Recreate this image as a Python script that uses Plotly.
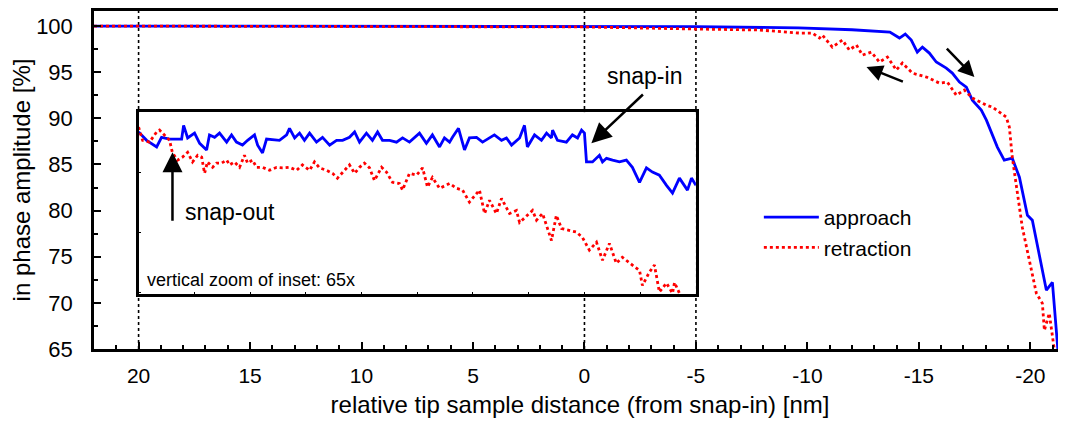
import plotly.graph_objects as go

# ---------------- data ----------------
# main curves (relative tip-sample distance [nm], in-phase amplitude [%])
approach_x = [22.0, 10.0, 0.0, -5.0, -9.6, -12.0, -13.7, -14.13, -14.39, -14.66, -14.93, -15.16,
              -15.47, -15.78, -16.23, -16.50, -16.82, -17.13, -17.40, -17.80, -18.03, -18.25,
              -18.52, -18.83, -19.19, -19.51, -19.87, -20.09, -20.72, -20.99, -21.25]
approach_y = [100.0, 100.0, 99.97, 99.93, 99.80, 99.60, 99.35, 98.70, 99.13, 98.48, 97.18, 97.72,
              97.07, 96.10, 95.44, 94.90, 93.93, 93.38, 91.97, 90.89, 89.80, 88.39,
              86.88, 85.47, 85.68, 83.62, 79.50, 78.96, 71.37, 72.23, 64.50]

retraction_x = [22.0, 10.0, 0.0, -5.16, -7.85, -9.64, -10.22, -10.54, -10.67, -11.12, -11.57, -11.88,
                -12.20, -12.47, -12.87, -13.23, -13.59, -13.99, -14.26, -14.71, -15.34, -15.92,
                -16.28, -16.68, -17.04, -17.40, -18.03, -18.30, -18.92, -19.06, -19.19, -19.64,
                -20.27, -20.54, -20.63, -20.85, -21.10]
retraction_y = [100.0, 99.95, 99.90, 99.67, 99.57, 99.24, 99.24, 98.70, 99.02, 97.72, 98.48, 97.40,
                97.94, 96.85, 97.18, 96.10, 96.64, 95.23, 95.99, 94.90, 94.47, 93.82,
                93.92, 92.51, 93.06, 92.19, 91.43, 91.21, 90.13, 89.04, 85.79, 78.20,
                71.04, 69.95, 67.03, 68.87, 64.50]

# inset curves (65x vertical zoom), amplitude [%]
inset_approach_x = [20.0, 19.64, 19.19, 18.97, 18.61, 18.07, 17.98, 17.80, 17.49, 17.26, 16.95, 16.82,
                    16.59, 16.37, 16.05, 15.83, 15.61, 15.34, 15.11, 14.80, 14.66, 14.44, 14.26, 13.68,
                    13.36, 13.23, 13.00, 12.78, 12.56, 12.33, 12.02, 11.75, 11.43, 11.12, 10.85, 10.54,
                    10.31, 10.09, 9.78, 9.51, 9.28, 9.06, 8.74, 8.43, 8.16, 7.85, 7.40, 7.09, 6.82,
                    6.50, 6.28, 6.05, 5.92, 5.65, 5.38, 5.16, 4.84, 4.57, 4.26, 4.04, 3.72, 3.50, 3.27,
                    2.91, 2.69, 2.56, 2.24, 1.93, 1.70, 1.48, 1.43, 1.21, 0.81, 0.54, 0.31, 0.13, 0.0,
                    -0.09, -0.36, -0.67, -0.81, -0.99, -1.26, -1.57, -1.88, -2.15, -2.47, -2.78, -3.05,
                    -3.36, -3.68, -3.95, -4.26, -4.62, -4.80, -5.0]
inset_approach_y = [99.967, 99.953, 99.942, 99.958, 99.955, 99.955, 99.978, 99.957, 99.965, 99.948, 99.937, 99.962,
                    99.958, 99.965, 99.950, 99.962, 99.950, 99.945, 99.953, 99.962, 99.945, 99.932, 99.955, 99.953,
                    99.962, 99.973, 99.957, 99.965, 99.953, 99.965, 99.950, 99.958, 99.945, 99.953, 99.953, 99.958,
                    99.967, 99.950, 99.965, 99.953, 99.967, 99.953, 99.953, 99.950, 99.957, 99.950, 99.965, 99.948, 99.962,
                    99.942, 99.957, 99.950, 99.958, 99.973, 99.937, 99.957, 99.958, 99.950, 99.957, 99.962, 99.953, 99.957, 99.945,
                    99.957, 99.978, 99.942, 99.962, 99.953, 99.965, 99.957, 99.970, 99.953, 99.950, 99.962, 99.957, 99.970, 99.965,
                    99.917, 99.917, 99.928, 99.917, 99.923, 99.920, 99.917, 99.920, 99.908, 99.883, 99.907, 99.900,
                    99.895, 99.878, 99.865, 99.890, 99.870, 99.890, 99.878]

inset_retraction_x = [20.0, 19.82, 19.51, 19.19, 19.06, 18.83, 18.61, 18.48, 18.25, 18.03, 17.80, 17.58,
                      17.35, 17.17, 17.04, 16.91, 16.68, 16.50, 16.28, 16.05, 15.92, 15.70, 15.47, 15.25,
                      15.11, 14.89, 14.71, 14.44, 14.13, 13.81, 13.54, 13.23, 12.91, 12.65, 12.33, 12.11,
                      11.88, 11.57, 11.30, 11.08, 10.76, 10.54, 10.31, 10.09, 9.87, 9.64, 9.42, 9.10, 8.88,
                      8.61, 8.30, 8.16, 7.85, 7.53, 7.26, 7.04, 6.82, 6.50, 6.05, 5.74, 5.47, 5.16, 4.71,
                      4.48, 4.26, 3.95, 3.72, 3.36, 3.05, 2.91, 2.33, 2.15, 1.88, 1.48, 1.26, 1.03, 0.36,
                      0.09, -0.22, -0.54, -0.81, -1.12, -1.43, -1.70, -2.15, -2.47, -2.60, -2.91, -3.14,
                      -3.36, -3.68, -3.95, -4.04, -4.26, -4.62, -5.0]
inset_retraction_y = [99.975, 99.953, 99.950, 99.967, 99.970, 99.962, 99.953, 99.932, 99.920, 99.925, 99.933, 99.917,
                      99.928, 99.925, 99.898, 99.917, 99.908, 99.915, 99.915, 99.920, 99.912, 99.917, 99.908, 99.928,
                      99.915, 99.920, 99.908, 99.908, 99.903, 99.908, 99.907, 99.908, 99.903, 99.912, 99.903, 99.917,
                      99.907, 99.903, 99.898, 99.890, 99.903, 99.912, 99.898, 99.908, 99.915, 99.907, 99.886, 99.908, 99.900,
                      99.883, 99.881, 99.870, 99.898, 99.895, 99.907, 99.875, 99.891, 99.873, 99.881, 99.873, 99.870, 99.850, 99.870,
                      99.831, 99.853, 99.831, 99.856, 99.831, 99.836, 99.816, 99.836, 99.820, 99.831, 99.786, 99.828, 99.806, 99.800,
                      99.791, 99.770, 99.783, 99.753, 99.781, 99.748, 99.758, 99.745, 99.736, 99.711, 99.733, 99.745,
                      99.700, 99.715, 99.698, 99.716, 99.698, 99.686, 99.689]

x_ticks = [20, 15, 10, 5, 0, -5, -10, -15, -20]
x_tick_labels = ["20", "15", "10", "5", "0", "-5", "-10", "-15", "-20"]
y_ticks = [65, 70, 75, 80, 85, 90, 95, 100]
y_tick_labels = ["65", "70", "75", "80", "85", "90", "95", "100"]
marker_lines_x = [20, 0, -5]

# ---------------- layout constants ----------------
X_RANGE = [22.0, -21.6]
Y_RANGE = [65.0, 101.63]
INSET_X = [20.0, -5.0]
INSET_BOX_Y = [70.92, 90.67]   # inset box in main-axis units
ZOOM = 65.0
inset_top = 100.0
inset_range = [inset_top - (INSET_BOX_Y[1] - INSET_BOX_Y[0]) / ZOOM, inset_top]

def xfrac(v):
    return (X_RANGE[0] - v) / (X_RANGE[0] - X_RANGE[1])

def yfrac(v):
    return (v - Y_RANGE[0]) / (Y_RANGE[1] - Y_RANGE[0])

BLUE = "#0000ff"
RED = "#ff0000"
FONT = "Liberation Sans, Arial, sans-serif"

fig = go.Figure()

fig.add_trace(go.Scatter(x=approach_x, y=approach_y, mode="lines", name="approach",
                         line=dict(color=BLUE, width=2.8)))
fig.add_trace(go.Scatter(x=retraction_x, y=retraction_y, mode="lines", name="retraction",
                         line=dict(color=RED, width=2.8, dash="dot")))
fig.add_trace(go.Scatter(x=inset_approach_x, y=inset_approach_y, mode="lines", showlegend=False,
                         line=dict(color=BLUE, width=2.8), xaxis="x2", yaxis="y2"))
fig.add_trace(go.Scatter(x=inset_retraction_x, y=inset_retraction_y, mode="lines", showlegend=False,
                         line=dict(color=RED, width=2.8, dash="dot"), xaxis="x2", yaxis="y2"))

shapes = []
for xv in marker_lines_x:
    shapes.append(dict(type="line", xref="x", yref="y", x0=xv, x1=xv, y0=Y_RANGE[0], y1=Y_RANGE[1],
                       line=dict(color="black", width=1.6, dash="dot"), layer="below"))

annotations = [
    dict(x=-0.31, y=87.31, ax=-2.69, ay=92.73, xref="x", yref="y", axref="x", ayref="y",
         showarrow=True, arrowhead=2, arrowsize=1.6, arrowwidth=2.5, arrowcolor="black", text=""),
    dict(x=-2.69, y=93.0, xref="x", yref="y", text="snap-in", showarrow=False,
         font=dict(size=23, color="black", family=FONT), yanchor="bottom"),
    dict(x=18.48, y=86.33, ax=18.48, ay=78.73, xref="x", yref="y", axref="x", ayref="y",
         showarrow=True, arrowhead=2, arrowsize=1.6, arrowwidth=2.5, arrowcolor="black", text=""),
    dict(x=18.03, y=79.8, xref="x", yref="y", text="snap-out", showarrow=False, xanchor="left",
         font=dict(size=23, color="black", family=FONT)),
    dict(x=-17.49, y=94.47, ax=-16.19, ay=97.72, xref="x", yref="y", axref="x", ayref="y",
         showarrow=True, arrowhead=2, arrowsize=1.3, arrowwidth=2.5, arrowcolor="black", text=""),
    dict(x=-12.65, y=95.55, ax=-14.35, ay=93.92, xref="x", yref="y", axref="x", ayref="y",
         showarrow=True, arrowhead=2, arrowsize=1.3, arrowwidth=2.5, arrowcolor="black", text=""),
    dict(x=19.73, y=72.44, xref="x", yref="y", text="vertical zoom of inset: 65x", showarrow=False,
         xanchor="left", font=dict(size=18, color="black", family=FONT)),
]

axis_common = dict(showgrid=False, zeroline=False, showline=True, linecolor="black", linewidth=2.5,
                   ticks="inside", tickcolor="black", tickwidth=2, automargin=False)

# the page body adds an 8px offset, so the figure is 8px smaller than the window
fig.update_layout(
    width=1058, height=415,
    margin=dict(l=86, r=0, t=3, b=74),
    paper_bgcolor="white", plot_bgcolor="white",
    font=dict(family=FONT, color="black"),
    showlegend=True,
    legend=dict(x=0.684, y=0.45, xanchor="left", yanchor="top", bgcolor="rgba(0,0,0,0)",
                font=dict(size=21, color="black", family=FONT), itemwidth=55, tracegroupgap=0),
    xaxis=dict(range=X_RANGE, tickvals=x_ticks, ticktext=x_tick_labels, ticklen=7, mirror=True,
               tickfont=dict(size=21, color="black", family=FONT),
               minor=dict(ticks="inside", dtick=1, ticklen=4, tickcolor="black", tickwidth=2),
               title=dict(text="relative tip sample distance (from snap-in) [nm]",
                          font=dict(size=24, color="black", family=FONT), standoff=11),
               ticklabelstandoff=6, **axis_common),
    yaxis=dict(range=Y_RANGE, tickvals=y_ticks, ticktext=y_tick_labels, ticklen=7,
               tickfont=dict(size=22, color="black", family=FONT),
               minor=dict(ticks="inside", dtick=2.5, ticklen=4, tickcolor="black", tickwidth=2),
               title=dict(text="in phase amplitude [%]",
                          font=dict(size=24, color="black", family=FONT), standoff=0),
               ticklabelstandoff=14, **axis_common),
    xaxis2=dict(domain=[xfrac(INSET_X[0]), xfrac(INSET_X[1])], range=INSET_X, anchor="y2",
                showgrid=False, zeroline=False, showline=True, mirror=True, linecolor="black",
                linewidth=2.5, ticks="inside", ticklen=3, tickcolor="black", dtick=2.5,
                showticklabels=False),
    yaxis2=dict(domain=[yfrac(INSET_BOX_Y[0]), yfrac(INSET_BOX_Y[1])], range=inset_range, anchor="x2",
                showgrid=False, zeroline=False, showline=True, mirror=True, linecolor="black",
                linewidth=2.5, ticks="inside", ticklen=3, tickcolor="black",
                showticklabels=False),
    shapes=shapes,
    annotations=annotations,
)

fig.write_html("out.html")
